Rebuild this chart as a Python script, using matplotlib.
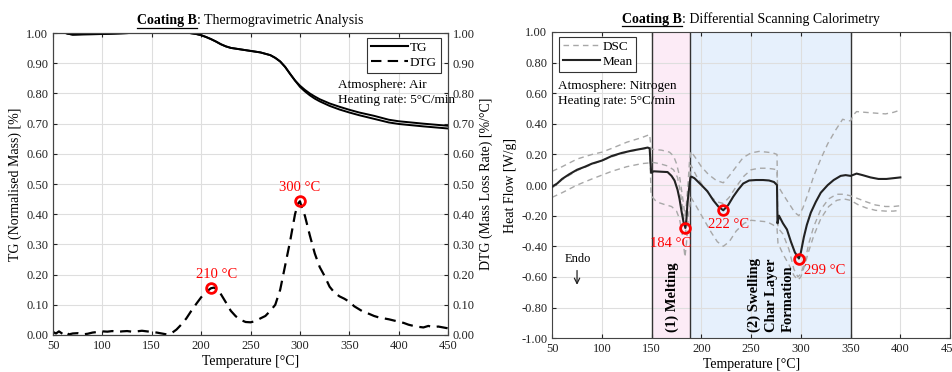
import numpy as np
import matplotlib
matplotlib.use('Agg')
import matplotlib.pyplot as plt
from matplotlib.ticker import FormatStrFormatter, MultipleLocator
from matplotlib.lines import Line2D

plt.rcParams['font.family'] = ['Liberation Serif', 'DejaVu Serif']
plt.rcParams['axes.unicode_minus'] = False
plt.rcParams['font.size'] = 9.5

# ---- TGA data (left) ----
tg_x = [50, 55, 60, 65, 70, 80, 100, 125, 150, 175, 185, 195, 200, 205, 210, 215, 220, 225, 230,
        240, 250, 260, 270, 275, 280, 285, 290, 295, 300, 305, 310, 315, 320, 330, 340, 350, 360,
        375, 390, 400, 425, 450]
tg_upper = [1.002, 1.005, 1.003, 0.998, 0.995, 0.996, 0.997, 1.000, 1.004, 1.004, 1.002, 0.997,
            0.993, 0.987, 0.980, 0.972, 0.963, 0.956, 0.951, 0.946, 0.941, 0.936, 0.927, 0.918,
            0.906, 0.888, 0.865, 0.843, 0.826, 0.812, 0.800, 0.790, 0.781, 0.767, 0.756, 0.746,
            0.737, 0.726, 0.713, 0.708, 0.700, 0.693]
tg_lower = [1.002, 1.005, 1.003, 0.998, 0.995, 0.996, 0.997, 1.000, 1.004, 1.004, 1.002, 0.997,
            0.993, 0.987, 0.980, 0.972, 0.963, 0.956, 0.951, 0.946, 0.941, 0.936, 0.927, 0.918,
            0.906, 0.888, 0.865, 0.843, 0.822, 0.807, 0.794, 0.783, 0.774, 0.759, 0.747, 0.737,
            0.728, 0.716, 0.704, 0.699, 0.691, 0.684]

dtg_x = [50, 53, 56, 60, 63, 66, 70, 75, 80, 85, 90, 95, 100, 105, 110, 115, 120, 125, 130, 135,
         140, 145, 150, 155, 160, 165, 170, 175, 180, 185, 190, 195, 200, 205, 210, 213, 216, 220,
         225, 230, 235, 240, 245, 250, 255, 260, 265, 270, 275, 280, 285, 290, 295, 298, 300, 302,
         305, 310, 315, 320, 325, 330, 335, 340, 345, 350, 355, 360, 365, 370, 375, 380, 385, 390,
         395, 400, 405, 410, 415, 420, 425, 430, 435, 440, 445, 450]
dtg_y = [0.010, 0.005, 0.012, 0.003, 0.010, 0.002, 0.005, 0.006, 0.002, 0.004, 0.008, 0.010,
         0.012, 0.011, 0.013, 0.010, 0.012, 0.013, 0.011, 0.012, 0.014, 0.012, 0.010, 0.008,
         0.005, 0.002, 0.006, 0.018, 0.035, 0.055, 0.080, 0.103, 0.125, 0.143, 0.155, 0.157,
         0.152, 0.135, 0.108, 0.080, 0.062, 0.050, 0.043, 0.042, 0.046, 0.055, 0.063, 0.080,
         0.100, 0.150, 0.230, 0.310, 0.400, 0.435, 0.443, 0.420, 0.395, 0.330, 0.270, 0.225,
         0.195, 0.160, 0.140, 0.128, 0.120, 0.110, 0.095, 0.085, 0.075, 0.070, 0.063, 0.058,
         0.055, 0.052, 0.048, 0.044, 0.040, 0.034, 0.030, 0.027, 0.025, 0.030, 0.026, 0.028,
         0.025, 0.022]
tga_peaks_x = [210, 300]
tga_peaks_y = [0.155, 0.443]
tga_peak_labels = ['210 °C', '300 °C']

# ---- DSC data (right) ----
mean_x = [50, 55, 60, 67, 75, 83, 90, 100, 110, 120, 130, 140, 146, 148, 149.5, 152, 160, 166, 170,
          173, 176, 178, 180, 182, 184, 185, 186, 187.5, 189, 190, 193, 200, 206, 212, 217, 222,
          227, 232, 237, 242, 248, 255, 262, 268, 273, 276, 276.5, 278, 282, 286, 290, 294, 298,
          300, 303, 306, 310, 315, 320, 327, 333, 340, 345, 350, 356, 362, 370, 378, 386, 393, 400]
mean_y = [-0.01, 0.01, 0.04, 0.07, 0.10, 0.12, 0.14, 0.16, 0.19, 0.21, 0.225, 0.237, 0.245, 0.24,
          0.08, 0.09, 0.087, 0.085, 0.06, 0.03, -0.03, -0.09, -0.17, -0.24, -0.28, -0.22, -0.12,
          -0.03, 0.05, 0.055, 0.045, 0.0, -0.04, -0.10, -0.14, -0.165, -0.13, -0.076, -0.03, 0.01,
          0.03, 0.033, 0.033, 0.03, 0.02, 0.0, -0.25, -0.2, -0.25, -0.29, -0.37, -0.44, -0.48,
          -0.44, -0.34, -0.26, -0.18, -0.11, -0.05, 0.0, 0.033, 0.06, 0.065, 0.06, 0.075, 0.065,
          0.05, 0.04, 0.04, 0.045, 0.05]

dsc1_x = [50, 60, 75, 90, 100, 110, 125, 140, 148, 149.5, 160, 168, 172, 175, 178, 180, 182, 183.5,
          185, 186.5, 188, 189.5, 195, 200, 207, 215, 222, 228, 235, 242, 250, 258, 266, 272, 276,
          276.5, 282, 288, 294, 298, 302, 307, 313, 320, 327, 335, 342, 347, 350, 353, 356, 365,
          375, 385, 393, 400]
dsc1_y = [0.09, 0.12, 0.17, 0.20, 0.215, 0.24, 0.28, 0.31, 0.33, 0.235, 0.228, 0.215, 0.19, 0.14,
          0.06, -0.03, -0.12, -0.2, -0.12, 0.0, 0.15, 0.22, 0.17, 0.12, 0.07, 0.03, 0.015, 0.06,
          0.12, 0.18, 0.21, 0.22, 0.215, 0.21, 0.2, 0.0, -0.06, -0.12, -0.18, -0.2, -0.15, -0.06,
          0.06, 0.17, 0.27, 0.36, 0.43, 0.42, 0.42, 0.46, 0.48, 0.475, 0.47, 0.465, 0.475, 0.49]

dsc2_x = [50, 60, 75, 90, 100, 110, 125, 140, 148, 149.5, 155, 162, 170, 175, 178, 181, 183.5, 185,
          187, 189.5, 195, 202, 210, 216, 222, 228, 235, 243, 250, 258, 266, 272, 276, 277, 282,
          288, 293, 297, 300, 304, 308, 313, 320, 328, 336, 343, 350, 358, 366, 375, 385, 393, 400]
dsc2_y = [-0.02, 0.035, 0.095, 0.135, 0.16, 0.185, 0.215, 0.235, 0.24, -0.07, -0.11, -0.125,
          -0.14, -0.17, -0.22, -0.33, -0.47, -0.38, -0.2, -0.08, -0.14, -0.22, -0.31, -0.37,
          -0.40, -0.37, -0.30, -0.25, -0.23, -0.235, -0.24, -0.26, -0.28, -0.38, -0.45, -0.52,
          -0.59, -0.62, -0.60, -0.52, -0.43, -0.33, -0.22, -0.14, -0.10, -0.09, -0.10, -0.13,
          -0.15, -0.165, -0.17, -0.17, -0.165]

dsc3_x = [50, 60, 75, 90, 100, 110, 125, 140, 148, 149.5, 158, 166, 172, 176, 179, 182, 184, 185.5,
          187.5, 189.5, 195, 202, 210, 216, 222, 228, 235, 243, 250, 258, 266, 272, 276, 277, 282,
          288, 293, 297, 300, 304, 308, 313, 320, 328, 336, 343, 350, 358, 366, 375, 385, 393, 400]
dsc3_y = [-0.08, -0.05, 0.0, 0.04, 0.065, 0.09, 0.12, 0.14, 0.145, 0.15, 0.14, 0.125, 0.10, 0.05,
          -0.05, -0.20, -0.32, -0.20, 0.0, 0.13, 0.06, -0.01, -0.08, -0.11, -0.12, -0.08, -0.01,
          0.06, 0.10, 0.11, 0.11, 0.105, 0.10, -0.28, -0.32, -0.42, -0.55, -0.60, -0.58, -0.50,
          -0.38, -0.27, -0.16, -0.09, -0.06, -0.06, -0.07, -0.09, -0.11, -0.13, -0.14, -0.14, -0.135]

dsc_peaks_x = [184, 222, 298]
dsc_peaks_y = [-0.28, -0.165, -0.48]
dsc_peak_labels = ['184 °C', '222 °C', '299 °C']
melt_region = (150, 189)
swell_region = (189, 350)

fig = plt.figure(figsize=(9.52, 3.72), dpi=100)
ax = fig.add_axes([0.0557, 0.0995, 0.415, 0.8115])
ax2 = ax.twinx()
bx = fig.add_axes([0.58, 0.091, 0.418, 0.823])

grid_kw = dict(color='#dedede', lw=0.8)
for a in (ax, ax2, bx):
    a.tick_params(direction='in', length=3, labelsize=9, colors='#222222')
    for s in a.spines.values():
        s.set_color('#444444')
        s.set_linewidth(0.8)

# left: TG + DTG
ax.plot(tg_x, tg_upper, color='black', lw=1.4)
ax.plot(tg_x, tg_lower, color='black', lw=1.4)
ax.set_xlim(50, 450)
ax.set_ylim(0, 1)
ax.xaxis.set_major_locator(MultipleLocator(50))
ax.yaxis.set_major_locator(MultipleLocator(0.1))
ax.yaxis.set_major_formatter(FormatStrFormatter('%.2f'))
ax.tick_params(top=True)
ax.grid(True, **grid_kw)
ax.set_axisbelow(True)
ax.set_xlabel('Temperature [°C]', fontsize=10, labelpad=2)
ax.set_ylabel('TG (Normalised Mass) [%]', fontsize=10, labelpad=3)

ax2.plot(dtg_x, dtg_y, color='black', lw=1.6, dashes=(5, 3))
ax2.set_ylim(0, 1)
ax2.yaxis.set_major_locator(MultipleLocator(0.1))
ax2.yaxis.set_major_formatter(FormatStrFormatter('%.2f'))
ax2.set_ylabel('DTG (Mass Loss Rate) [%/°C]', fontsize=10, labelpad=3)
ax2.plot(tga_peaks_x, tga_peaks_y, 'o', mfc='none', mec='red', mew=2, ms=7)
ax2.text(216, 0.20, tga_peak_labels[0], color='red', ha='center', va='center', fontsize=10.5)
ax2.text(300, 0.49, tga_peak_labels[1], color='red', ha='center', va='center', fontsize=10.5)
ax2.text(339, 0.828, 'Atmosphere: Air', ha='left', va='center', fontsize=9.5)
ax2.text(339, 0.778, 'Heating rate: 5°C/min', ha='left', va='center', fontsize=9.5)
h = [Line2D([], [], color='black', lw=1.5), Line2D([], [], color='black', lw=1.5, dashes=(5, 3))]
leg = ax2.legend(h, ['TG', 'DTG'], loc='upper right', bbox_to_anchor=(0.982, 0.985),
                 fancybox=False, edgecolor='#333333', framealpha=1, handlelength=2.8,
                 handletextpad=0.15, borderpad=0.3, labelspacing=0.2, fontsize=9.5,
                 borderaxespad=0)
leg.get_frame().set_linewidth(0.8)

# right: DSC
bx.axvspan(*melt_region, color='#fcebf6', lw=0, zorder=0)
bx.axvspan(*swell_region, color='#e6f0fc', lw=0, zorder=0)
for xv in (melt_region[0], melt_region[1], swell_region[1]):
    bx.axvline(xv, color='#333333', lw=1.0, zorder=1)
for xs, ys in ((dsc1_x, dsc1_y), (dsc2_x, dsc2_y), (dsc3_x, dsc3_y)):
    bx.plot(xs, ys, color='#a8a8a8', lw=1.0, dashes=(4, 3), zorder=2)
bx.plot(mean_x, mean_y, color='#222222', lw=1.5, zorder=3)
bx.plot(dsc_peaks_x, dsc_peaks_y, 'o', mfc='none', mec='red', mew=2, ms=7, zorder=4)
bx.text(169, -0.38, dsc_peak_labels[0], color='red', ha='center', va='center', fontsize=10.5)
bx.text(227, -0.26, dsc_peak_labels[1], color='red', ha='center', va='center', fontsize=10.5)
bx.text(324, -0.555, dsc_peak_labels[2], color='red', ha='center', va='center', fontsize=10.5)
bx.set_xlim(50, 450)
bx.set_ylim(-1, 1)
bx.xaxis.set_major_locator(MultipleLocator(50))
bx.yaxis.set_major_locator(MultipleLocator(0.2))
bx.yaxis.set_major_formatter(FormatStrFormatter('%.2f'))
bx.tick_params(top=True, right=True)
bx.grid(True, **grid_kw)
bx.set_axisbelow(True)
bx.set_xlabel('Temperature [°C]', fontsize=10, labelpad=2)
bx.set_ylabel('Heat Flow [W/g]', fontsize=10, labelpad=3)
bx.text(55.5, 0.647, 'Atmosphere: Nitrogen', ha='left', va='center', fontsize=9.5)
bx.text(55.5, 0.550, 'Heating rate: 5°C/min', ha='left', va='center', fontsize=9.5)
bx.text(76, -0.48, 'Endo', ha='center', va='center', fontsize=9)
bx.annotate('', xy=(75, -0.67), xytext=(75, -0.54),
            arrowprops=dict(arrowstyle='->', color='#222222', lw=0.9))
bx.text(171, -0.96, '(1) Melting', rotation=90, ha='center', va='bottom',
        fontsize=10.5, fontweight='bold')
bx.text(270, -0.96, '(2) Swelling\nChar Layer\nFormation', rotation=90, ha='center',
        va='bottom', multialignment='left', fontsize=10.5, fontweight='bold', linespacing=1.4)
h = [Line2D([], [], color='#a8a8a8', lw=1.0, dashes=(4, 3)), Line2D([], [], color='#222222', lw=1.5)]
leg = bx.legend(h, ['DSC', 'Mean'], loc='upper left', bbox_to_anchor=(0.018, 0.985),
                fancybox=False, edgecolor='#333333', framealpha=1, handlelength=2.8,
                handletextpad=0.15, borderpad=0.3, labelspacing=0.2, fontsize=9.5,
                borderaxespad=0)
leg.get_frame().set_linewidth(0.8)


def underlined_title(a, bold, rest):
    r = fig.canvas.get_renderer()
    t1 = a.text(0, 1.03, bold, transform=a.transAxes, ha='left', va='baseline',
                fontweight='bold', fontsize=10)
    t2 = a.text(0, 1.03, rest, transform=a.transAxes, ha='left', va='baseline', fontsize=10)
    bb = a.get_window_extent(r)
    w1 = t1.get_window_extent(r).width
    w2 = t2.get_window_extent(r).width
    x0 = (bb.width - (w1 + w2)) / 2
    t1.set_x(x0 / bb.width)
    t2.set_x((x0 + w1) / bb.width)
    b1 = t1.get_window_extent(r)
    yline = b1.y0 - 0.5
    fx0, fy = fig.transFigure.inverted().transform((b1.x0, yline))
    fx1, _ = fig.transFigure.inverted().transform((b1.x1, yline))
    fig.add_artist(Line2D([fx0, fx1], [fy, fy], color='black', lw=0.9))


fig.canvas.draw()
underlined_title(ax, 'Coating B', ': Thermogravimetric Analysis')
underlined_title(bx, 'Coating B', ': Differential Scanning Calorimetry')

fig.savefig('out.png', dpi=100)
